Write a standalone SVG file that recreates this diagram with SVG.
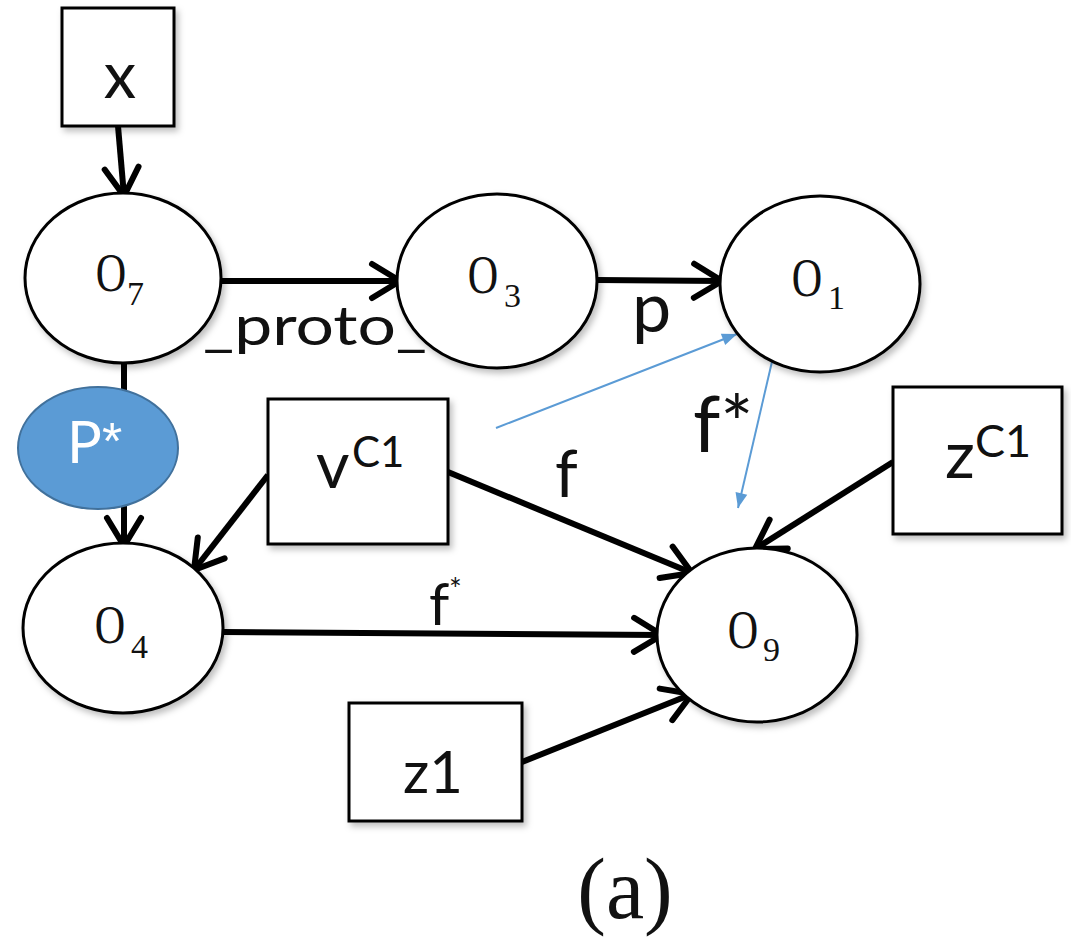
<svg xmlns="http://www.w3.org/2000/svg" width="1071" height="942" viewBox="0 0 1071 942">
<style>
.node{fill:#fff;stroke:#000;stroke-width:3}
.edge{stroke:#000;stroke-width:6;fill:none;marker-end:url(#chev)}
.blue{stroke:#5b9bd5;stroke-width:2;fill:none;marker-end:url(#tri)}
.sans{font-family:Lato,"Liberation Sans",sans-serif;fill:#111}
.serif{font-family:"Liberation Serif",serif;fill:#111}
.sh{filter:url(#shadow)}
</style>
<defs>
<filter id="shadow" x="-20%" y="-20%" width="140%" height="140%">
<feDropShadow dx="3" dy="4" stdDeviation="3" flood-color="#000" flood-opacity="0.25"/>
</filter>
<marker id="chev" viewBox="-36 -24 44 48" markerWidth="44" markerHeight="48" refX="0" refY="0" orient="auto" markerUnits="userSpaceOnUse">
<path d="M-28,-17 L0,0 L-28,17" fill="none" stroke="#000" stroke-width="6" stroke-linecap="round"/>
</marker>
<marker id="tri" viewBox="-16 -8 18 16" markerWidth="18" markerHeight="16" refX="0" refY="0" orient="auto" markerUnits="userSpaceOnUse">
<path d="M-15,-6 L0,0 L-15,6 Z" fill="#5b9bd5"/>
</marker>
</defs>
<g id="connectors">
<line class="edge" x1="118" y1="126" x2="124" y2="196"/>
<line class="edge" x1="222" y1="281" x2="400" y2="281"/>
<line class="edge" x1="597" y1="280" x2="722" y2="281"/>
<line class="edge" x1="124" y1="363" x2="124" y2="546"/>
<line class="edge" x1="268" y1="475" x2="194" y2="570"/>
<line class="edge" x1="448" y1="472" x2="692" y2="573"/>
<line class="edge" x1="223" y1="632" x2="662" y2="635"/>
<line class="edge" x1="893" y1="462" x2="755" y2="549"/>
<line class="edge" x1="522" y1="762" x2="692" y2="694"/>
<line class="blue" x1="496" y1="428" x2="737" y2="334"/>
<line class="blue" x1="774" y1="353" x2="738" y2="508"/>
<text class="sans" x="203" y="345" font-size="55" textLength="224" lengthAdjust="spacingAndGlyphs">_proto_</text>
<text class="sans" x="632" y="332" font-size="70">p</text>
<text class="sans" x="693" y="452" font-size="78">f*</text>
<text class="sans" x="555" y="497" font-size="65">f</text>
<text class="sans" x="429" y="625" font-size="58">f</text>
<text class="sans" x="449" y="600" font-size="30">*</text>
</g>
<g id="x">
<rect class="node sh" x="62" y="8" width="112" height="118"/>
<text class="sans" x="120" y="98" font-size="65" text-anchor="middle">x</text>
</g>
<g id="O7">
<ellipse class="node sh" cx="123" cy="278" rx="98" ry="85"/>
<text class="serif" font-size="54" text-anchor="middle" transform="translate(111,291) scale(0.78,1)">O</text>
<text class="serif" x="127" y="305" font-size="34">7</text>
</g>
<g id="O3">
<ellipse class="node sh" cx="497" cy="281" rx="100" ry="87"/>
<text class="serif" font-size="54" text-anchor="middle" transform="translate(483,293) scale(0.78,1)">O</text>
<text class="serif" x="504" y="307" font-size="34">3</text>
</g>
<g id="O1">
<ellipse class="node sh" cx="820" cy="284" rx="100" ry="88"/>
<text class="serif" font-size="54" text-anchor="middle" transform="translate(807,296) scale(0.78,1)">O</text>
<text class="serif" x="828" y="309" font-size="34">1</text>
</g>
<g id="Pstar">
<ellipse cx="98" cy="448" rx="80" ry="61" fill="#5b9bd5" stroke="#41719c" stroke-width="2"/>
<text x="67" y="463" font-size="58" fill="#fff" font-family="Lato,'Liberation Sans',sans-serif">P</text>
<text x="102" y="459" font-size="52" fill="#fff" font-family="'Liberation Sans',sans-serif">*</text>
</g>
<g id="O4">
<ellipse class="node sh" cx="123" cy="628" rx="100" ry="85"/>
<text class="serif" font-size="54" text-anchor="middle" transform="translate(110,643) scale(0.78,1)">O</text>
<text class="serif" x="131" y="658" font-size="34">4</text>
</g>
<g id="vC1">
<rect class="node sh" x="268" y="399" width="180" height="145"/>
<text class="sans" x="316" y="488" font-size="65">v</text>
<text class="sans" x="352" y="467" font-size="42">C1</text>
</g>
<g id="zC1">
<rect class="node sh" x="893" y="387" width="169" height="147"/>
<text class="sans" x="945" y="478" font-size="66">z</text>
<text class="sans" x="975" y="457" font-size="45">C1</text>
</g>
<g id="O9">
<ellipse class="node sh" cx="757" cy="635" rx="100" ry="87"/>
<text class="serif" font-size="54" text-anchor="middle" transform="translate(743,648) scale(0.78,1)">O</text>
<text class="serif" x="763" y="661" font-size="34">9</text>
</g>
<g id="z1">
<rect class="node sh" x="349" y="703" width="173" height="118"/>
<text class="sans" x="403" y="793" font-size="58">z1</text>
</g>
<text class="serif" x="625" y="918" font-size="86" text-anchor="middle">(a)</text>
</svg>
